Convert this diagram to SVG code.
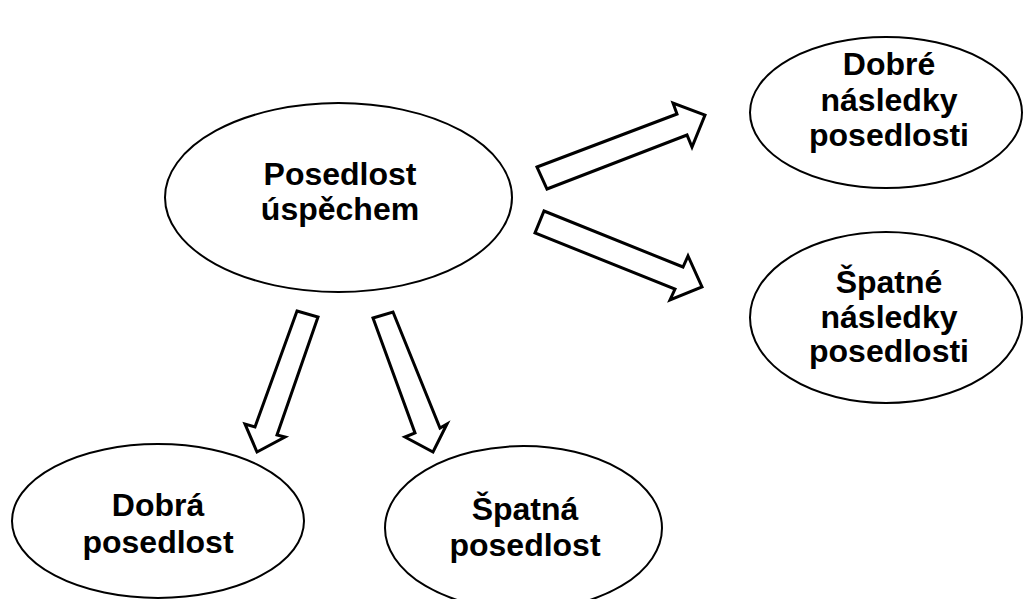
<svg xmlns="http://www.w3.org/2000/svg" width="1023" height="599" viewBox="0 0 1023 599">
<style>
.node ellipse{fill:#fff;stroke:#000;stroke-width:2}
.node text{font-family:"Liberation Sans",Arial,sans-serif;font-weight:bold;font-size:32px;fill:#000;text-anchor:middle}
.arrow{fill:#fff;stroke:#000;stroke-width:3;stroke-linejoin:miter}
</style>
<rect width="1023" height="599" fill="#fff"/>
<g id="n-center" class="node">
<ellipse cx="338.5" cy="197.5" rx="173.5" ry="94.5"/>
<text x="340" y="185">Posedlost</text>
<text x="340" y="220">úspěchem</text>
</g>
<g id="n-dobre-nasledky" class="node">
<ellipse cx="886" cy="112.5" rx="136" ry="75.5"/>
<text x="889" y="75">Dobré</text>
<text x="889" y="111">následky</text>
<text x="889" y="146">posedlosti</text>
</g>
<g id="n-spatne-nasledky" class="node">
<ellipse cx="886" cy="317.5" rx="136" ry="85.5"/>
<text x="889" y="293">Špatné</text>
<text x="889" y="328">následky</text>
<text x="889" y="362">posedlosti</text>
</g>
<g id="n-dobra" class="node">
<ellipse cx="158" cy="521" rx="146" ry="77"/>
<text x="158" y="516">Dobrá</text>
<text x="158" y="553">posedlost</text>
</g>
<g id="n-spatna" class="node">
<ellipse cx="523.5" cy="528" rx="138.5" ry="82"/>
<text x="525" y="520">Špatná</text>
<text x="525" y="556">posedlost</text>
</g>
<g id="connectors">
<polygon class="arrow" points="537,167 677,114 673,103 705,115 692,147 687,135 547,189"/>
<polygon class="arrow" points="544,211 683,267 688,256 702,287 670,300 675,289 535,233"/>
<polygon class="arrow" points="297,311 318,317 277,435 285,437 257,452 245,424 255,427"/>
<polygon class="arrow" points="373,318 393,312 440,428 447,424 433,452 405,437 415,433"/>
</g>
</svg>
